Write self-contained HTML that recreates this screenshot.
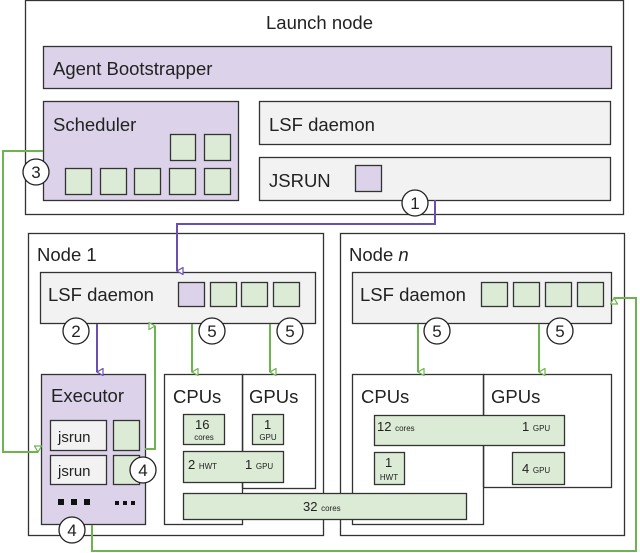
<!DOCTYPE html>
<html><head><meta charset="utf-8"><style>
html,body{margin:0;padding:0;background:#fff;}
svg{display:block;}
text{font-family:"Liberation Sans",Arial,sans-serif;fill:#222;}
</style></head><body>
<svg width="640" height="553" viewBox="0 0 640 553" xmlns="http://www.w3.org/2000/svg">
<defs>
<marker id="ap" markerWidth="8" markerHeight="8" refX="4" refY="7" orient="auto" markerUnits="userSpaceOnUse"><path d="M0.5,1 L7.5,1 L4,7 Z" fill="#fff" stroke="#6a4fb0" stroke-width="1.2"/></marker>
<marker id="ag" markerWidth="8" markerHeight="8" refX="4" refY="7" orient="auto" markerUnits="userSpaceOnUse"><path d="M0.5,1 L7.5,1 L4,7 Z" fill="#fff" stroke="#6db34f" stroke-width="1.2"/></marker>
</defs>
<g stroke="#333" stroke-width="1.3">
<!-- Launch node -->
<rect x="25.5" y="0.5" width="598" height="214" fill="#fff"/>
<rect x="43.5" y="46.5" width="568" height="42" fill="#dcd3ea"/>
<rect x="43.5" y="101.5" width="195" height="99" fill="#dcd3ea"/>
<rect x="259.5" y="101.5" width="351" height="43" fill="#f2f2f2"/>
<rect x="259.5" y="157.5" width="351" height="43" fill="#f2f2f2"/>
<rect x="355.5" y="165.5" width="26" height="26" fill="#dcd3ea"/>
<g fill="#dcebd5">
<rect x="170.5" y="134.5" width="25" height="26"/><rect x="204.5" y="134.5" width="26" height="26"/>
<rect x="65.5" y="168.5" width="26" height="26"/><rect x="100.5" y="168.5" width="26" height="26"/><rect x="134.5" y="168.5" width="26" height="26"/><rect x="169.5" y="168.5" width="26" height="26"/><rect x="204.5" y="168.5" width="26" height="26"/>
</g>
<!-- Node 1 -->
<rect x="28.5" y="233.5" width="295" height="302" fill="#fff"/>
<rect x="40.5" y="272.5" width="275" height="51" fill="#f2f2f2"/>
<rect x="178.5" y="282.5" width="26" height="24" fill="#dcd3ea"/>
<g fill="#dcebd5"><rect x="210.5" y="282.5" width="26" height="24"/><rect x="241.5" y="282.5" width="26" height="24"/><rect x="273.5" y="282.5" width="26" height="24"/></g>
<rect x="41.5" y="374.5" width="104" height="150" fill="#dcd3ea"/>
<rect x="50.5" y="420.5" width="56" height="30" fill="#f2f2f2"/>
<rect x="50.5" y="455.5" width="56" height="29" fill="#f2f2f2"/>
<rect x="113.5" y="420.5" width="26" height="30" fill="#dcebd5"/>
<rect x="113.5" y="455.5" width="26" height="29" fill="#dcebd5"/>
<rect x="242.5" y="374.5" width="73" height="114" fill="#fff"/>
<rect x="164.5" y="374.5" width="78" height="150" fill="#fff"/>
<line x1="242.5" y1="374.5" x2="242.5" y2="488" />
<!-- Node n -->
<rect x="340.5" y="233.5" width="284" height="302" fill="#fff"/>
<rect x="352.5" y="272.5" width="259" height="51" fill="#f2f2f2"/>
<g fill="#dcebd5"><rect x="481.5" y="282.5" width="26" height="24"/><rect x="513.5" y="282.5" width="26" height="24"/><rect x="545.5" y="282.5" width="26" height="24"/><rect x="577.5" y="282.5" width="26" height="24"/></g>
<rect x="483.5" y="374.5" width="128" height="113" fill="#fff"/>
<rect x="352.5" y="374.5" width="131" height="150" fill="#fff"/>
<line x1="483.5" y1="374.5" x2="483.5" y2="487"/>
<g fill="#dcebd5">
<rect x="183.5" y="414.5" width="41" height="30"/>
<rect x="252.5" y="414.5" width="31" height="30"/>
<rect x="183.5" y="451.5" width="100" height="31"/>
<rect x="183.5" y="493.5" width="283" height="26"/>
<rect x="374.5" y="415.5" width="190" height="30"/>
<rect x="374.5" y="452.5" width="30" height="32"/>
<rect x="512.5" y="452.5" width="52" height="32"/>
</g>
</g>
<!-- connectors -->
<g fill="none" stroke-width="2">
<polyline points="435,200 435,224 177,224 177,271" stroke="#6a4fb0" marker-end="url(#ap)"/>
<line x1="97" y1="324" x2="97" y2="372" stroke="#6a4fb0" marker-end="url(#ap)"/>
<polyline points="43,151 3,151 3,452 38,452" stroke="#6db34f" marker-end="url(#ag)"/>
<polyline points="145,449 155,449 155,326" stroke="#6db34f" marker-end="url(#ag)"/>
<line x1="192" y1="324" x2="192" y2="372" stroke="#6db34f" marker-end="url(#ag)"/>
<line x1="270" y1="324" x2="270" y2="372" stroke="#6db34f" marker-end="url(#ag)"/>
<line x1="418" y1="324" x2="418" y2="372" stroke="#6db34f" marker-end="url(#ag)"/>
<line x1="539" y1="324" x2="539" y2="372" stroke="#6db34f" marker-end="url(#ag)"/>
<polyline points="92,525 92,551 636,551 636,298 614,298" stroke="#6db34f" marker-end="url(#ag)"/>
</g>
<!-- circles -->
<g fill="#fff" stroke="#222" stroke-width="1.3">
<circle cx="415" cy="203" r="13"/><circle cx="36" cy="172" r="13"/>
<circle cx="76" cy="331" r="13"/><circle cx="212" cy="331" r="13"/><circle cx="290" cy="331" r="13"/>
<circle cx="437" cy="331" r="13"/><circle cx="560" cy="331" r="13"/>
<circle cx="143" cy="470" r="13"/><circle cx="72" cy="530" r="13"/>
</g>
<g font-size="17" text-anchor="middle">
<text x="415" y="209">1</text><text x="36" y="178">3</text>
<text x="76" y="337">2</text><text x="212" y="337">5</text><text x="290" y="337">5</text>
<text x="437" y="337">5</text><text x="560" y="337">5</text>
<text x="143" y="476">4</text><text x="72" y="536">4</text>
</g>
<!-- labels -->
<g font-size="18.5">
<text x="266" y="29">Launch node</text>
<text x="53" y="75">Agent Bootstrapper</text>
<text x="53" y="131">Scheduler</text>
<text x="269" y="131">LSF daemon</text>
<text x="269" y="187">JSRUN</text>
<text x="37" y="261">Node 1</text>
<text x="48" y="301">LSF daemon</text>
<text x="349" y="261">Node <tspan font-style="italic">n</tspan></text>
<text x="360" y="301">LSF daemon</text>
<text x="51" y="402">Executor</text>
<text x="173" y="403">CPUs</text>
<text x="249" y="403">GPUs</text>
<text x="361" y="403">CPUs</text>
<text x="491" y="403">GPUs</text>
</g>
<g font-size="15">
<text x="58" y="442">jsrun</text>
<text x="58" y="476">jsrun</text>
</g>
<g font-size="13">
<text x="195" y="429">16</text>
<text x="264" y="429">1</text>
<text x="188" y="469">2 <tspan font-size="8">HWT</tspan></text>
<text x="245" y="469">1 <tspan font-size="8">GPU</tspan></text>
<text x="303" y="511">32 <tspan font-size="8">cores</tspan></text>
<text x="377" y="431">12 <tspan font-size="8">cores</tspan></text>
<text x="522" y="431">1 <tspan font-size="8">GPU</tspan></text>
<text x="385" y="467">1</text>
<text x="522" y="473">4 <tspan font-size="8">GPU</tspan></text>
</g>
<g font-size="8" text-anchor="middle">
<text x="204" y="440">cores</text>
<text x="268" y="440">GPU</text>
<text x="389" y="480">HWT</text>
</g>
<g fill="#111">
<rect x="58" y="499" width="6" height="6"/><rect x="71" y="499" width="6" height="6"/><rect x="84" y="499" width="6" height="6"/>
<rect x="115" y="501" width="4" height="4"/><rect x="123" y="501" width="4" height="4"/><rect x="131" y="501" width="4" height="4"/>
</g>
</svg>
</body></html>
